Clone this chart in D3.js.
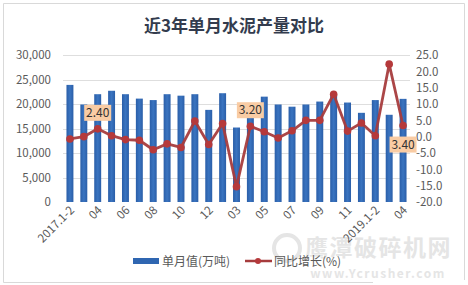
<!DOCTYPE html>
<html lang="zh">
<head>
    <meta charset="UTF-8">
    <title>近3年单月水泥产量对比</title>
    <script src="https://d3js.org/d3.v7.min.js"></script>
    <style>
        body { margin: 0; background: #fff; }
        svg text { font-family: "Noto Sans CJK SC", "DejaVu Sans", sans-serif; }
    </style>
</head>
<body>
    <svg id="chart" width="468" height="285"></svg>
    <script>
        // months shown on the axis
        const months = ["2017.1-2", "03", "04", "05", "06", "07", "08", "09", "10", "11", "12",
            "2018.1-2", "03", "04", "05", "06", "07", "08", "09", "10", "11", "12",
            "2019.1-2", "03", "04"];
        // 单月值(万吨)
        const output = [23900, 19900, 22000, 22700, 22000, 21100, 20800, 22000, 21700, 22000, 18800,
            22200, 15200, 19500, 21500, 19900, 19450, 19900, 20500, 21800, 20300, 18200,
            20800, 17800, 21050];
        // 同比增长(%)
        const yoy = [-0.7, 0.0, 2.4, 0.3, -0.9, -1.1, -4.0, -2.2, -3.3, 4.8, -2.4,
            4.0, -15.3, 3.2, 1.5, -0.4, 1.8, 5.0, 5.0, 13.0, 1.7,
            4.2, 0.3, 22.2, 3.4];
        const leftTicks = [0, 5000, 10000, 15000, 20000, 25000, 30000];
        const rightTicks = [-20, -15, -10, -5, 0, 5, 10, 15, 20, 25];
        const callouts = [{ i: 2, text: "2.40", pos: "above" }, { i: 13, text: "3.20", pos: "above" }, { i: 24, text: "3.40", pos: "below" }];

        const svg = d3.select("#chart");

        // frame
        svg.append("path")
            .attr("d", "M373,282.5 L3.5,282.5 L3.5,3.5 L464.5,3.5 L464.5,280")
            .attr("fill", "none").attr("stroke", "#d9d9d9");

        svg.append("text").attr("x", 234).attr("y", 32)
            .attr("text-anchor", "middle").attr("font-size", 17).attr("font-weight", "bold")
            .attr("fill", "#333c4e").text("近3年单月水泥产量对比");

        const x = d3.scaleBand().domain(d3.range(months.length)).range([63, 410])
            .paddingInner(0.5).paddingOuter(0.25);
        const yL = d3.scaleLinear().domain([0, 30000]).range([202, 55]);
        const yR = d3.scaleLinear().domain([-20, 25]).range([202, 55]);

        // watermark (sits behind the legend like in the source image)
        const wm = svg.append("g").attr("opacity", 0.6);
        wm.append("circle").attr("cx", 287).attr("cy", 248).attr("r", 13)
            .attr("fill", "none").attr("stroke", "#d4d4d4").attr("stroke-width", 4);
        wm.append("text").attr("x", 305).attr("y", 256)
            .attr("font-size", 23).attr("font-weight", "bold").attr("fill", "#d4d4d4")
            .attr("letter-spacing", 1.5).text("鹰潭破碎机网");
        wm.append("text").attr("x", 378).attr("y", 278).attr("text-anchor", "middle")
            .attr("font-size", 12).attr("font-weight", "bold").attr("fill", "#d4d4d4")
            .attr("font-family", "'DejaVu Serif', serif").attr("letter-spacing", 1.5).text("www.Ycrusher.com");

        // grid
        svg.append("g").selectAll("line").data(leftTicks.slice(1)).join("line")
            .attr("x1", 63).attr("x2", 410)
            .attr("y1", d => Math.round(yL(d)) + 0.5).attr("y2", d => Math.round(yL(d)) + 0.5)
            .attr("stroke", "#dedede");

        // left axis
        const axL = svg.append("g").attr("transform", "translate(51,0)")
            .call(d3.axisLeft(yL).tickValues(leftTicks).tickFormat(d3.format(",")).tickSize(0).tickPadding(0));
        axL.select(".domain").remove();
        axL.selectAll("text").attr("font-size", 11.5).attr("fill", "#595959")
            .attr("font-family", "'Liberation Sans', sans-serif");

        // right axis
        const axR = svg.append("g").attr("transform", "translate(416,0)")
            .call(d3.axisRight(yR).tickValues(rightTicks).tickSize(0).tickPadding(0));
        axR.select(".domain").remove();
        axR.selectAll("text").attr("font-size", 11.5).attr("fill", "#595959")
            .attr("font-family", "'Liberation Sans', sans-serif")
            .text(d => d.toFixed(1));

        // bar gradient
        const grad = svg.append("defs").append("linearGradient").attr("id", "barGrad")
            .attr("x1", "0").attr("x2", "1").attr("y1", "0").attr("y2", "0");
        grad.append("stop").attr("offset", "0%").attr("stop-color", "#2a5ea8");
        grad.append("stop").attr("offset", "50%").attr("stop-color", "#3a74c0");
        grad.append("stop").attr("offset", "100%").attr("stop-color", "#2a5ea8");

        svg.append("g").selectAll("rect").data(output).join("rect")
            .attr("x", (d, i) => x(i)).attr("width", x.bandwidth())
            .attr("y", d => yL(d)).attr("height", d => yL(0) - yL(d))
            .attr("fill", "url(#barGrad)");

        // x labels, every other month
        const xl = svg.append("g");
        months.forEach((m, i) => {
            if (i % 2) return;
            xl.append("text")
                .attr("transform", `translate(${x(i) + x.bandwidth() / 2 + 5},${211}) rotate(-45)`)
                .attr("text-anchor", "end").attr("font-size", 11.5).attr("fill", "#595959")
                .attr("font-family", "'Liberation Sans', sans-serif")
                .text(m);
        });

        // yoy line
        const line = d3.line().x((d, i) => x(i) + x.bandwidth() / 2).y(d => yR(d));
        svg.append("path").datum(yoy).attr("d", line)
            .attr("fill", "none").attr("stroke", "#a63c3d").attr("stroke-width", 2.8)
            .attr("stroke-linejoin", "round").attr("opacity", 0.95);
        svg.append("g").selectAll("circle").data(yoy).join("circle")
            .attr("cx", (d, i) => x(i) + x.bandwidth() / 2).attr("cy", d => yR(d))
            .attr("r", 3.8).attr("fill", "#b5393b");

        // callouts
        callouts.forEach(c => {
            const cx = x(c.i) + x.bandwidth() / 2;
            const cy = yR(yoy[c.i]);
            const bw = 27, bh = 16;
            const by = c.pos === "above" ? cy - 8 - bh : cy + 11;
            svg.append("rect").attr("x", cx - bw / 2).attr("y", by).attr("width", bw).attr("height", bh)
                .attr("fill", "#f9cca4");
            svg.append("text").attr("x", cx).attr("y", by + 12).attr("text-anchor", "middle")
                .attr("font-size", 12).attr("fill", "#333")
                .attr("font-family", "'Liberation Sans', sans-serif").text(c.text);
        });

        // legend
        const lg = svg.append("g");
        lg.append("rect").attr("x", 133).attr("y", 258).attr("width", 26).attr("height", 6).attr("fill", "#2f66b1");
        lg.append("text").attr("x", 162).attr("y", 266).attr("font-size", 12).attr("fill", "#595959").text("单月值(万吨)");
        lg.append("line").attr("x1", 245).attr("x2", 272).attr("y1", 261).attr("y2", 261)
            .attr("stroke", "#a63c3d").attr("stroke-width", 2.5);
        lg.append("circle").attr("cx", 258).attr("cy", 261).attr("r", 3).attr("fill", "#b5393b");
        lg.append("text").attr("x", 274).attr("y", 266).attr("font-size", 12).attr("fill", "#595959").text("同比增长(%)");
    </script>
</body>
</html>
